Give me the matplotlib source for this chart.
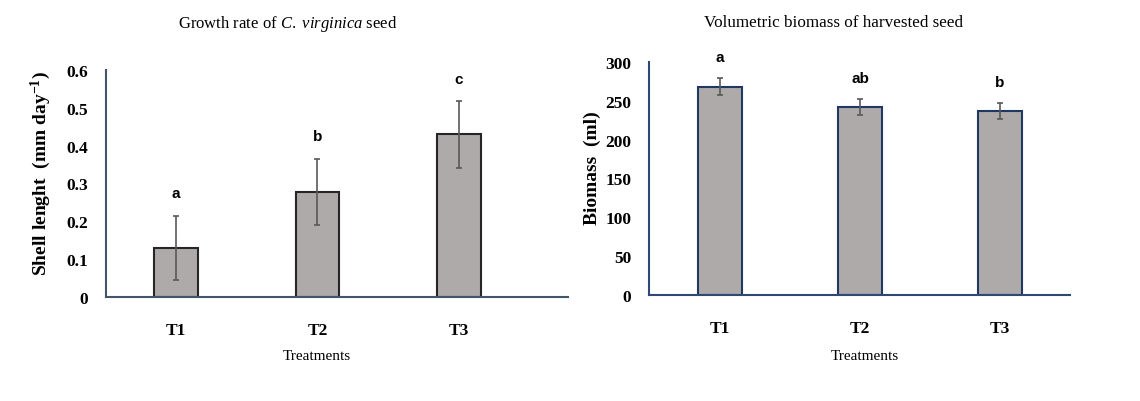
import numpy as np
import matplotlib
matplotlib.use("Agg")
import matplotlib.pyplot as plt

plt.rcParams['mathtext.fontset'] = 'custom'
plt.rcParams['mathtext.rm'] = 'Liberation Serif'
plt.rcParams['mathtext.it'] = 'Liberation Serif:italic'
plt.rcParams['mathtext.bf'] = 'Liberation Serif:bold'

# data
treatments = ["T1", "T2", "T3"]
growth = [0.13, 0.278, 0.43]
growth_err = [0.085, 0.088, 0.088]
growth_letters = ["a", "b", "c"]

biomass = [268, 242, 237]
biomass_err = [11, 10, 10]
biomass_letters = ["a", "ab", "b"]

bar_fill = "#aeaaaa"
err_col = "#595959"
serif = "Liberation Serif"

fig = plt.figure(figsize=(11.4, 4.02), dpi=100)
x = np.arange(len(treatments))

# left panel: growth rate
ax1 = fig.add_axes([0.093, 0.2587, 0.405, 0.5647])
ax1.bar(x, growth, width=0.31, color=bar_fill, edgecolor="#262626", linewidth=1.5, zorder=2)
ax1.errorbar(x, growth, yerr=growth_err, fmt="none", ecolor=err_col, elinewidth=1.2,
             capsize=2.5, capthick=1.2, zorder=3)
for xi, v, e, lab in zip(x, growth, growth_err, growth_letters):
    ax1.annotate(lab, (xi, v + e), xytext=(0, 16), textcoords="offset points",
                 ha="center", va="center", fontsize=11, fontweight="bold", family="Liberation Sans")
ax1.set_xlim(-0.495, 2.77)
ax1.set_ylim(0, 0.6)
ax1.set_yticks(np.arange(0, 0.61, 0.1))
ax1.set_yticklabels(["0", "0.1", "0.2", "0.3", "0.4", "0.5", "0.6"])
ax1.set_ylabel("Shell lenght  (mm day$^{\\mathbf{-1}}$)", family=serif, fontweight="bold", fontsize=14)
ax1.yaxis.set_label_coords(-0.115, 0.55)
fig.text(288 / 1140, 1 - 24 / 402, "Growth rate of $\\mathit{C.\\ virginica}$ seed", family=serif,
         fontsize=12, ha="center", va="center")
fig.text(317 / 1140, 1 - 357 / 402, "Treatments", family=serif, fontsize=11, ha="center", va="center")

# right panel: biomass
ax2 = fig.add_axes([0.5696, 0.2637, 0.369, 0.5796])
ax2.bar(x, biomass, width=0.31, color=bar_fill, edgecolor="#203864", linewidth=1.5, zorder=2)
ax2.errorbar(x, biomass, yerr=biomass_err, fmt="none", ecolor=err_col, elinewidth=1.2,
             capsize=2.5, capthick=1.2, zorder=3)
for xi, v, e, lab in zip(x, biomass, biomass_err, biomass_letters):
    ax2.annotate(lab, (xi, v + e), xytext=(0, 15), textcoords="offset points",
                 ha="center", va="center", fontsize=11, fontweight="bold", family="Liberation Sans")
ax2.set_xlim(-0.505, 2.5)
ax2.set_ylim(0, 300)
ax2.set_yticks(np.arange(0, 301, 50))
ax2.set_ylabel("Biomass  (ml)", family=serif, fontweight="bold", fontsize=14)
ax2.yaxis.set_label_coords(-0.115, 0.55)
fig.text(833 / 1140, 1 - 23 / 402, "Volumetric biomass of harvested seed", family=serif,
         fontsize=12.3, ha="center", va="center")
fig.text(865 / 1140, 1 - 357 / 402, "Treatments", family=serif, fontsize=11, ha="center", va="center")

for ax, col in [(ax1, "#44546a"), (ax2, "#2f4878")]:
    ax.set_xticks(x)
    ax.set_xticklabels(treatments)
    for s in ["top", "right"]:
        ax.spines[s].set_visible(False)
    ax.spines["left"].set_color(col)
    ax.spines["bottom"].set_color(col)
    ax.spines["left"].set_linewidth(1.5)
    ax.spines["bottom"].set_linewidth(1.5)
    ax.tick_params(axis="both", length=0)
    ax.tick_params(axis="y", pad=13)
    ax.tick_params(axis="x", pad=18)
    for t in ax.get_xticklabels() + ax.get_yticklabels():
        t.set_family(serif)
        t.set_fontweight("bold")
        t.set_fontsize(12.5)

fig.savefig("out.png", dpi=100)
